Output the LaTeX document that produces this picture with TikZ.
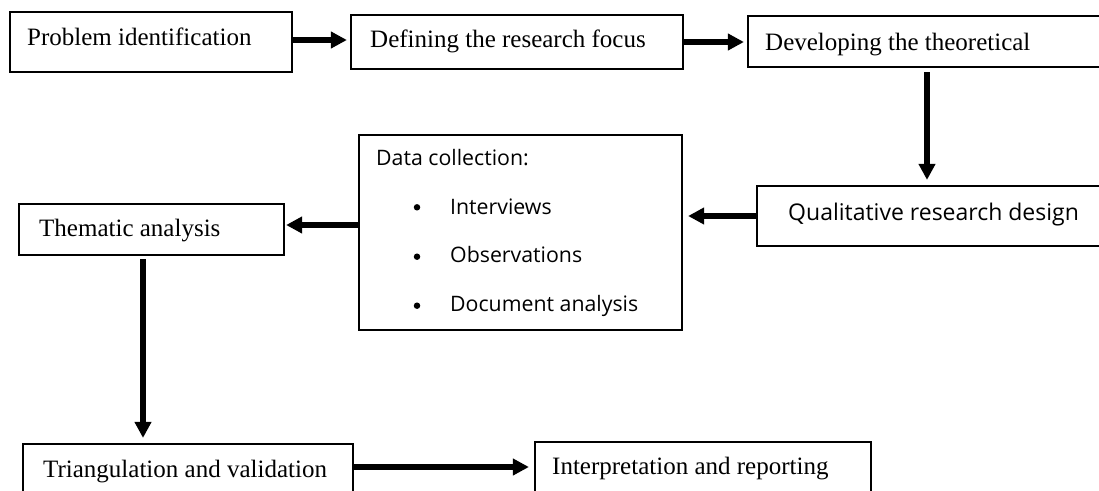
\documentclass[tikz,border=0pt]{standalone}
\usepackage{fontspec}
\setmainfont{Liberation Serif}
\newfontfamily\sansf{Open Sans}
\usetikzlibrary{arrows.meta}
\tikzset{
  box/.style={draw=black, line width=2.2pt, rectangle, inner sep=0pt, fill=white},
  serif/.style={anchor=base west, inner sep=0pt, font=\fontsize{25}{30}\selectfont},
  sanstxt/.style={anchor=base west, inner sep=0pt, font=\sansf\fontsize{21.3}{25}\selectfont},
  arr/.style={line width=5.5pt, -{Triangle[length=16pt,width=16pt]}},
  bul/.style={circle, fill=black, inner sep=0pt, minimum size=6.5pt}
}
\begin{document}
\begin{tikzpicture}[x=1pt,y=-1pt]
\useasboundingbox (0,0) rectangle (1099,490);
\clip (0,0) rectangle (1099,490);
\fill[white] (0,0) rectangle (1099,490);
% boxes
\node[box, minimum width=282pt, minimum height=60pt] (b1) at (151,42) {};
\node[box, minimum width=332pt, minimum height=54pt] (b2) at (517,42) {};
\node[box, minimum width=367pt, minimum height=51pt] (b3) at (931.5,41.5) {};
\node[box, minimum width=358pt, minimum height=60pt] (b4) at (936,216) {};
\node[box, minimum width=323pt, minimum height=195pt] (b5) at (520.5,232.5) {};
\node[box, minimum width=265pt, minimum height=51pt] (b6) at (151.5,229.5) {};
\node[box, minimum width=330pt, minimum height=56pt] (b7) at (188,472) {};
\node[box, minimum width=336pt, minimum height=58pt] (b8) at (703,471) {};
% texts
\node[serif] (t1) at (27,45) {Problem identification};
\node[serif] (t2) at (370,47) {Defining the research focus};
\node[serif] (t3) at (765,50) {Developing the theoretical};
\node[anchor=base west, inner sep=0pt, font=\sansf\fontsize{23}{28}\selectfont] (t4) at (788,220) {Qualitative research design};
\node[sanstxt] (t5) at (376,165) {Data collection:};
\node[bul] (d1) at (417,207.3) {};
\node[bul] (d2) at (417,256.7) {};
\node[bul] (d3) at (417,305.7) {};
\node[sanstxt] (t5a) at (450,214) {Interviews};
\node[sanstxt] (t5b) at (450,262.3) {Observations};
\node[sanstxt] (t5c) at (450,311.7) {Document analysis};
\node[serif] (t6) at (39,236) {Thematic analysis};
\node[serif] (t7) at (43,477) {Triangulation and validation};
\node[serif] (t8) at (552,474) {Interpretation and reporting};
% connectors
\draw[arr, shorten >=3pt] ([yshift=2pt]b1.east) -- ([yshift=2pt]b1.east -| b2.west);
\draw[arr, shorten >=3pt] (b2.east) -- (b2.east -| b3.west);
\draw[arr, shorten <=4pt, shorten >=5pt] ([xshift=-4.5pt]b3.south) -- ([xshift=-4.5pt]b3.south |- b4.north);
\draw[arr, shorten >=5pt] (b4.west) -- (b4.west -| b5.east);
\draw[arr, shorten >=1pt] ([yshift=4.5pt]b6.east -| b5.west) -- ([yshift=4.5pt]b6.east);
\draw[arr, shorten <=3pt, shorten >=5pt] ([xshift=-8.5pt]b6.south) -- ([xshift=-8.5pt]b6.south |- b7.north);
\draw[arr, shorten >=5pt] ([yshift=5pt]b7.east) -- ([yshift=5pt]b7.east -| b8.west);
\end{tikzpicture}
\end{document}
